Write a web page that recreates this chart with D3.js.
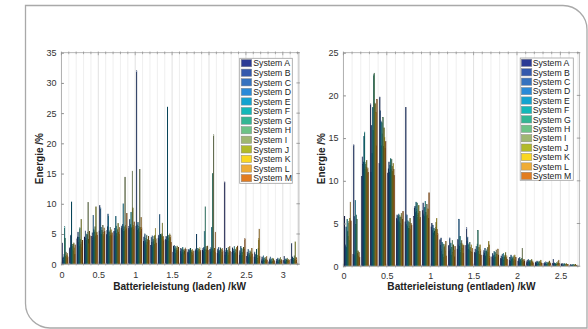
<!DOCTYPE html>
<html>
<head>
<meta charset="utf-8">
<script src="https://cdn.jsdelivr.net/npm/d3@7"></script>
<style>
  body { margin: 0; background: #fff; }
  svg { display: block; font-family: "Liberation Sans", Arial, sans-serif; }
</style>
</head>
<body>
<div id="chart"></div>
<script>
// series
const systems = ['System A', 'System B', 'System C', 'System D', 'System E', 'System F', 'System G',
  'System H', 'System I', 'System J', 'System K', 'System L', 'System M'];
const systemColors = ['#2c3b95', '#3459ad', '#3572bf', '#2a8ad8', '#13a3d0', '#13b8b9', '#33b694',
  '#6dc387', '#9fb771', '#b2ba2a', '#fad722', '#efac35', '#e27c20'];

// charging power bins (kW) and energy share (%) per bin, one value per system A..M
const ladenBins = [0.05, 0.15, 0.25, 0.35, 0.45, 0.55, 0.65, 0.75, 0.85, 0.95, 1.05, 1.15, 1.25, 1.35, 1.45, 1.55,
  1.65, 1.75, 1.85, 1.95, 2.05, 2.15, 2.25, 2.35, 2.45, 2.55, 2.65, 2.75, 2.85, 2.95, 3.05, 3.15];
const ladenValues = [
  [3.5, 1.0, 1.2, 0.9, 1.6, 6.2, 4.3, 1.3, 2.0, 1.1, 1.5, 1.8, 1.2],
  [2.6, 2.8, 4.8, 3.1, 10.3, 2.4, 3.0, 3.3, 2.2, 3.5, 2.7, 1.6, 3.2],
  [4.2, 4.5, 5.3, 3.6, 4.4, 2.9, 6.0, 4.1, 3.3, 7.4, 2.8, 3.6, 3.9],
  [4.5, 3.2, 5.5, 4.3, 5.0, 3.9, 4.8, 5.2, 10.2, 4.1, 3.4, 5.4, 4.7],
  [4.6, 5.2, 4.2, 8.1, 5.8, 4.4, 5.5, 6.2, 4.7, 9.5, 5.1, 5.3, 4.8],
  [5.5, 9.7, 5.0, 9.3, 6.1, 4.9, 5.6, 5.3, 6.4, 4.7, 5.2, 6.0, 5.4],
  [4.9, 5.6, 6.2, 8.3, 7.9, 5.3, 4.6, 5.5, 6.1, 5.0, 5.7, 4.8, 5.2],
  [5.4, 4.7, 5.9, 5.5, 7.9, 6.3, 5.1, 4.6, 5.8, 6.7, 5.3, 4.9, 6.1],
  [5.9, 6.3, 5.6, 6.6, 10.0, 5.7, 6.2, 5.5, 14.4, 6.4, 6.0, 5.8, 8.4],
  [6.2, 5.7, 7.4, 6.0, 6.6, 8.6, 5.9, 6.1, 15.4, 9.3, 6.4, 6.0, 7.0],
  [6.3, 32.0, 6.5, 5.6, 6.9, 5.8, 6.2, 5.3, 15.7, 6.1, 5.4, 7.7, 6.0],
  [3.8, 4.5, 3.4, 5.0, 3.7, 4.2, 3.2, 4.8, 3.6, 4.1, 3.3, 4.6, 3.9],
  [3.1, 4.4, 3.6, 4.7, 3.0, 4.1, 3.8, 4.6, 3.3, 4.8, 5.9, 4.2, 3.5],
  [4.3, 4.8, 4.1, 8.2, 4.5, 4.9, 4.2, 4.7, 5.0, 6.8, 4.4, 4.6, 4.0],
  [4.1, 4.6, 3.9, 4.4, 26.0, 4.3, 4.8, 3.8, 4.5, 5.0, 4.2, 4.7, 3.6],
  [2.0, 3.0, 2.6, 3.1, 2.4, 2.9, 1.8, 2.7, 2.3, 3.0, 2.5, 1.9, 2.8],
  [2.1, 2.6, 1.7, 2.4, 2.0, 2.8, 2.3, 1.9, 2.5, 2.2, 1.6, 2.7, 2.4],
  [2.0, 2.4, 2.2, 1.8, 2.5, 2.1, 2.6, 1.9, 2.3, 2.0, 2.4, 1.7, 2.2],
  [2.2, 2.5, 2.0, 4.9, 2.3, 2.1, 2.6, 1.9, 2.4, 2.2, 2.7, 2.0, 2.3],
  [2.3, 2.6, 2.1, 2.8, 5.4, 2.4, 9.5, 2.2, 2.9, 2.5, 2.0, 3.0, 2.3],
  [2.4, 2.0, 2.7, 2.2, 6.1, 2.5, 15.0, 2.3, 21.4, 2.1, 2.6, 1.9, 5.3],
  [1.8, 2.5, 2.1, 2.8, 1.6, 2.3, 1.9, 2.7, 2.0, 2.4, 1.5, 2.6, 2.2],
  [13.6, 1.5, 2.2, 1.9, 2.6, 1.4, 2.3, 2.0, 2.8, 1.7, 2.4, 2.9, 2.1],
  [2.0, 2.7, 1.6, 2.4, 2.1, 2.9, 1.8, 2.5, 2.2, 1.7, 2.8, 2.3, 3.0],
  [1.5, 2.2, 1.8, 2.9, 1.4, 2.6, 2.0, 1.7, 2.4, 2.8, 1.9, 2.5, 4.2],
  [1.3, 2.0, 1.6, 2.4, 1.1, 1.8, 1.5, 2.2, 1.2, 1.9, 1.4, 2.6, 1.7],
  [1.2, 2.0, 0.8, 1.6, 1.1, 2.4, 1.0, 1.5, 0.9, 2.6, 4.2, 5.8, 1.3],
  [0.7, 1.2, 0.5, 0.9, 1.4, 0.6, 1.0, 0.4, 1.1, 0.8, 0.5, 1.3, 0.7],
  [0.4, 0.9, 0.6, 1.2, 0.5, 0.8, 0.3, 1.0, 0.7, 0.4, 0.9, 0.6, 0.5],
  [0.5, 0.8, 0.4, 1.0, 0.6, 0.3, 0.9, 0.7, 0.5, 1.1, 0.4, 0.8, 0.6],
  [0.6, 1.3, 0.5, 0.8, 0.4, 0.9, 0.7, 0.5, 1.0, 0.6, 0.8, 0.4, 0.7],
  [0.8, 3.4, 0.7, 1.2, 0.6, 1.0, 0.9, 1.4, 0.8, 3.7, 0.7, 1.1, 0.9]
];

// discharging power bins (kW)
const entladenBins = [0.05, 0.15, 0.25, 0.35, 0.45, 0.55, 0.65, 0.75, 0.85, 0.95, 1.05, 1.15, 1.25, 1.35, 1.45,
  1.55, 1.65, 1.75, 1.85, 1.95, 2.05, 2.15, 2.25, 2.35, 2.45, 2.55, 2.65];
const entladenValues = [
  [5.8, 2.5, 2.3, 4.6, 2.2, 5.5, 4.1, 3.5, 5.2, 3.0, 5.6, 7.5, 5.3],
  [1.4, 14.2, 5.8, 1.3, 7.7, 4.9, 6.0, 5.5, 1.5, 1.8, 1.2, 1.6, 1.0],
  [10.5, 12.8, 11.9, 12.2, 15.2, 15.7, 11.3, 12.1, 11.6, 12.4, 10.9, 11.5, 11.0],
  [19.0, 11.0, 16.5, 13.2, 18.6, 15.9, 22.4, 22.6, 19.1, 19.0, 18.0, 14.1, 19.5],
  [12.0, 19.8, 18.2, 17.0, 14.1, 16.8, 15.5, 17.4, 14.0, 16.2, 15.1, 13.8, 14.6],
  [10.9, 11.4, 12.2, 11.0, 11.8, 12.6, 11.3, 12.5, 11.7, 11.1, 12.0, 11.3, 10.6],
  [5.6, 6.0, 5.4, 5.8, 6.1, 5.2, 5.9, 5.0, 5.7, 6.2, 4.8, 5.5, 6.4],
  [5.2, 18.6, 4.9, 6.0, 4.7, 5.3, 4.4, 5.1, 4.6, 5.6, 4.3, 5.0, 4.8],
  [5.8, 6.8, 7.0, 6.3, 7.5, 6.6, 7.4, 5.9, 6.2, 7.1, 5.5, 6.4, 5.7],
  [6.5, 7.4, 6.1, 5.8, 6.9, 7.6, 6.3, 5.9, 7.2, 6.0, 6.7, 5.6, 8.6],
  [4.6, 5.0, 4.2, 4.8, 3.9, 4.4, 4.1, 3.6, 4.5, 5.1, 5.6, 4.3, 3.8],
  [3.1, 2.4, 3.3, 1.9, 2.8, 1.4, 2.6, 1.0, 2.2, 2.5, 1.8, 2.9, 1.2],
  [2.4, 1.8, 3.3, 2.0, 2.7, 1.3, 2.2, 3.0, 1.6, 2.5, 1.9, 1.1, 2.3],
  [2.0, 3.1, 2.5, 5.5, 2.3, 3.5, 1.8, 2.7, 3.0, 2.1, 2.6, 1.5, 2.4],
  [2.4, 4.5, 2.9, 3.4, 2.0, 2.6, 1.9, 2.8, 2.2, 1.7, 2.5, 1.6, 2.1],
  [1.6, 2.0, 1.5, 2.3, 1.8, 2.6, 4.2, 1.7, 2.2, 1.4, 2.5, 1.9, 1.3],
  [1.3, 1.8, 1.5, 2.1, 1.2, 1.7, 1.9, 1.4, 2.2, 1.6, 2.9, 2.5, 1.1],
  [1.1, 1.5, 0.9, 1.3, 1.7, 1.2, 1.6, 1.0, 1.9, 1.4, 1.1, 2.0, 1.3],
  [0.9, 1.2, 0.8, 1.4, 1.0, 1.5, 0.7, 1.1, 1.3, 1.6, 0.9, 1.2, 0.8],
  [0.7, 1.0, 0.6, 1.3, 0.8, 1.1, 0.9, 0.6, 1.2, 0.8, 1.3, 0.7, 1.0],
  [0.6, 0.9, 0.5, 1.0, 0.7, 0.8, 0.6, 0.9, 2.1, 0.7, 0.5, 0.8, 0.6],
  [0.5, 0.7, 0.4, 0.8, 0.6, 0.5, 0.7, 0.4, 0.6, 0.8, 0.5, 0.6, 0.4],
  [0.4, 0.5, 0.3, 0.6, 0.4, 0.5, 0.3, 0.6, 0.4, 0.5, 0.7, 0.4, 0.3],
  [0.3, 0.4, 0.3, 0.5, 0.2, 0.4, 0.3, 0.4, 0.5, 0.3, 0.6, 0.4, 0.3],
  [0.3, 0.8, 0.2, 0.4, 0.3, 0.2, 0.3, 0.4, 0.2, 0.5, 0.3, 0.7, 0.3],
  [0.2, 0.3, 0.1, 0.2, 0.1, 0.3, 0.2, 0.1, 0.2, 0.3, 0.2, 0.1, 0.2],
  [0.1, 0.2, 0.1, 0.1, 0.2, 0.1, 0.1, 0.2, 0.1, 0.1, 0.2, 0.1, 0.1]
];

const ladenXTicks = [0, 0.5, 1, 1.5, 2, 2.5, 3];
const entladenXTicks = [0, 0.5, 1, 1.5, 2, 2.5];
const ladenYTicks = [0, 5, 10, 15, 20, 25, 30, 35];
const entladenYTicks = [0, 5, 10, 15, 20, 25];

const W = 588, H = 329;
const svg = d3.select('#chart').append('svg').attr('width', W).attr('height', H);

// outer frame (rounded top-right and bottom-left)
svg.append('path')
  .attr('d', 'M25.5,5.5 H563 A24,24 0 0 1 587,29.5 V328 H50 A24.5,24.5 0 0 1 25.5,303.5 Z')
  .attr('fill', 'none').attr('stroke', '#a9a9a9').attr('stroke-width', 1.3);

const charts = [
  { id: 'l', bins: ladenBins, values: ladenValues, xTicks: ladenXTicks, yTicks: ladenYTicks,
    left: 61.4, right: 298.9, top: 52.7, bottom: 264.2, xMax: 3.218, yMax: 35,
    xLabel: 'Batterieleistung (laden) /kW', xLabelX: 179.6, yLabelX: 43.4, tickDy: 0,
    legend: { x: 239.7, y: 58.3, w: 52.6, h: 125, row: 9.58, patchX: 241.2, textX: 253.3 } },
  { id: 'r', bins: entladenBins, values: entladenValues, xTicks: entladenXTicks, yTicks: entladenYTicks,
    left: 343.4, right: 579.3, top: 52.7, bottom: 266.2, xMax: 2.718, yMax: 25,
    xLabel: 'Batterieleistung (entladen) /kW', xLabelX: 461.4, yLabelX: 325.2, tickDy: 1,
    legend: { x: 520.2, y: 58.0, w: 53.1, h: 122.3, row: 9.42, patchX: 521.3, textX: 532.7 } }
];

charts.forEach(c => {
  const x = d3.scaleLinear().domain([0, c.xMax]).range([c.left, c.right]);
  const y = d3.scaleLinear().domain([0, c.yMax]).range([c.bottom, c.top]);
  const groupW = x(0.08) - x(0);
  const inner = d3.scaleBand().domain(systems).range([-groupW / 2, groupW / 2]);
  const g = svg.append('g');

  g.append('clipPath').attr('id', 'clip-' + c.id)
    .append('rect').attr('x', c.left).attr('y', c.top).attr('width', c.right - c.left).attr('height', c.bottom - c.top);

  // vertical grid every 0.1 kW
  const grid = d3.range(0, c.xMax + 1e-6, 0.1);
  g.append('g').selectAll('line').data(grid).join('line')
    .attr('x1', d => x(d)).attr('x2', d => x(d))
    .attr('y1', c.top).attr('y2', c.bottom)
    .attr('stroke', (d, i) => i % 5 === 0 ? '#d9d9d9' : '#ebebeb')
    .attr('stroke-width', 0.8);

  // grouped bars (thin bars with dark edges, as in the original export)
  const bars = [];
  c.bins.forEach((b, i) => c.values[i].forEach((v, j) => bars.push({ b, v, s: systems[j], j })));
  g.append('g').attr('clip-path', 'url(#clip-' + c.id + ')')
    .selectAll('rect').data(bars).join('rect')
    .attr('x', d => x(d.b) + inner(d.s))
    .attr('width', inner.bandwidth())
    .attr('y', d => y(d.v))
    .attr('height', d => y(0) - y(d.v))
    .attr('fill', d => d3.color(systemColors[d.j]).darker(0.5))
    .attr('stroke', d => d3.color(systemColors[d.j]).darker(2.4))
    .attr('stroke-width', 0.55);

  // box
  g.append('rect').attr('x', c.left).attr('y', c.top).attr('width', c.right - c.left).attr('height', c.bottom - c.top)
    .attr('fill', 'none').attr('stroke', '#a6a6a6').attr('stroke-width', 0.8);

  // x minor ticks top and bottom
  g.append('g').selectAll('line').data(grid).join('line')
    .attr('x1', d => x(d)).attr('x2', d => x(d))
    .attr('y1', c.top - 1.2).attr('y2', (d, i) => c.top + (i % 5 === 0 ? 2.5 : 1.5))
    .attr('stroke', '#8c8c8c').attr('stroke-width', 0.7);
  g.append('g').selectAll('line').data(grid).join('line')
    .attr('x1', d => x(d)).attr('x2', d => x(d))
    .attr('y1', c.bottom + 1.2).attr('y2', (d, i) => c.bottom - (i % 5 === 0 ? 2.5 : 1.5))
    .attr('stroke', '#8c8c8c').attr('stroke-width', 0.7);

  // y ticks left and right
  const yAxisL = d3.axisLeft(y).tickValues(c.yTicks).tickSize(-2.5).tickPadding(5).tickFormat(d3.format('d'));
  const ga = g.append('g').attr('transform', 'translate(' + c.left + ',0)').call(yAxisL);
  ga.select('.domain').remove();
  ga.selectAll('line').attr('stroke', '#8c8c8c');
  ga.selectAll('text').attr('fill', '#333').style('font-size', '9px').attr('x', -4.9);
  g.append('g').selectAll('line').data(c.yTicks).join('line')
    .attr('x1', c.right - 2.5).attr('x2', c.right + 1)
    .attr('y1', d => y(d)).attr('y2', d => y(d))
    .attr('stroke', '#8c8c8c').attr('stroke-width', 0.8);

  // x tick labels
  const xAxisB = d3.axisBottom(x).tickValues(c.xTicks).tickSize(0).tickPadding(0).tickFormat(d => d);
  const gb = g.append('g').attr('transform', 'translate(0,' + c.bottom + ')').call(xAxisB);
  gb.select('.domain').remove();
  gb.selectAll('text').attr('fill', '#333').style('font-size', '9px').attr('y', 14.2 - c.tickDy).attr('dy', 0);

  // axis titles
  g.append('text').attr('x', c.xLabelX).attr('y', 290.2)
    .attr('text-anchor', 'middle').style('font-size', '10.1px').style('font-weight', 'bold').attr('fill', '#222')
    .text(c.xLabel);
  g.append('text').attr('transform', 'translate(' + c.yLabelX + ',' + 158.6 + ') rotate(-90)')
    .attr('text-anchor', 'middle').style('font-size', '10px').style('font-weight', 'bold').attr('fill', '#222')
    .text('Energie /%');

  // legend
  const L = c.legend;
  const lg = g.append('g');
  lg.append('rect').attr('x', L.x).attr('y', L.y).attr('width', L.w).attr('height', L.h)
    .attr('fill', '#fff').attr('stroke', '#a0a0a0').attr('stroke-width', 0.8);
  const rows = lg.selectAll('g.row').data(systems).join('g').attr('class', 'row')
    .attr('transform', (d, i) => 'translate(0,' + (L.y + 1.2 + i * L.row) + ')');
  rows.append('rect').attr('x', L.patchX).attr('y', 0).attr('width', 10.5).attr('height', 7.3)
    .attr('fill', (d, i) => systemColors[i]).attr('stroke', '#8a8a8a').attr('stroke-width', 0.5);
  rows.append('text').attr('x', L.textX).attr('y', 6.9)
    .style('font-size', '8.7px').attr('fill', '#222').text(d => d);
});
</script>
</body>
</html>
